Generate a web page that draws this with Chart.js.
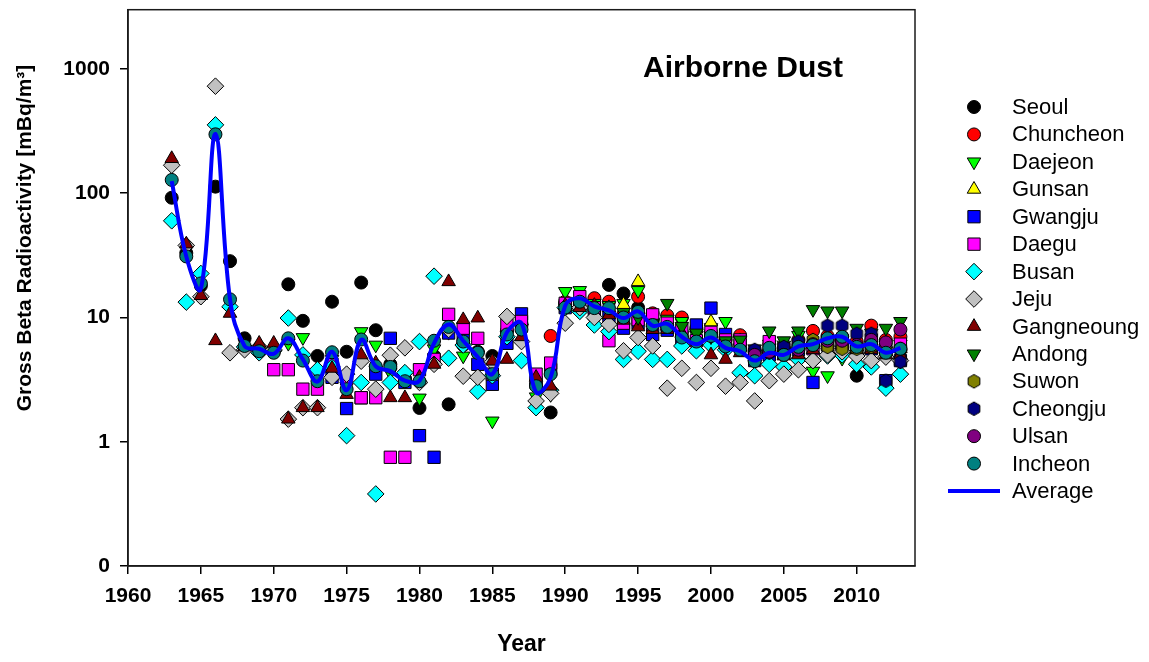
<!DOCTYPE html>
<html>
<head>
<meta charset="utf-8">
<script src="https://cdn.jsdelivr.net/npm/chart.js@4.4.0/dist/chart.umd.min.js"></script>
<style>
  html, body { margin: 0; padding: 0; background: #fff; }
</style>
</head>
<body>
<canvas id="dust" width="1149" height="662"></canvas>
<script>
const FONT = 'Arial, "Liberation Sans", sans-serif'

const years = [
  1963, 1964, 1965, 1966, 1967, 1968, 1969,
  1970, 1971, 1972, 1973, 1974, 1975, 1976, 1977, 1978, 1979,
  1980, 1981, 1982, 1983, 1984, 1985, 1986, 1987, 1988, 1989,
  1990, 1991, 1992, 1993, 1994, 1995, 1996, 1997, 1998, 1999,
  2000, 2001, 2002, 2003, 2004, 2005, 2006, 2007, 2008, 2009,
  2010, 2011, 2012, 2013
]

const xTicks = [1960, 1965, 1970, 1975, 1980, 1985, 1990, 1995, 2000, 2005, 2010]
const yTicks = [0.1, 1, 10, 100, 1000]
const yTickLabels = ['0', '1', '10', '100', '1000']

// mBq/m3 per station, 1963..2013 (null = no measurement)
const seoul = [
  92, 33, 18, 113, 28.4, 6.8, 5.6,
  5.3, 18.5, 9.4, 4.9, 13.4, 5.3, 19.1, 7.9, 4.2, 3.2,
  1.87, 4.9, 2.0, 6.0, 5.3, 4.9, 7.8, 8.8, 2.9, 1.72,
  12.8, 13.5, 12.5, 18.3, 15.6, 12.0, 9.4, 8.7, 7.6, 6.6,
  7.2, 6.0, 5.6, 4.7, 5.4, 5.1, 5.6, 5.9, 6.6, 7.0,
  3.4, 6.0, 5.3, 5.5
]
const chuncheon = [
  null, null, null, null, null, null, null,
  null, null, null, null, null, null, null, null, null, null,
  null, null, null, null, null, null, null, null, null, 7.1,
  13.4, 13.8, 14.3, 13.4, 10.7, 14.7, 10.8, 10.4, 10.0, 8.2,
  7.6, 6.6, 7.2, 5.3, 6.1, 5.6, 6.6, 7.8, 7.1, 6.6,
  6.4, 8.6, 6.6, 7.0
]
const daejeon = [
  null, null, null, null, null, null, null,
  null, 6.2, 6.9, 3.6, 4.6, 2.8, 7.7, 6.0, 3.6, 3.3,
  2.25, 5.6, 7.6, 4.9, 5.0, 1.47, 7.2, 8.2, 2.3, 2.4,
  16.2, 16.5, 13.0, 12.5, 13.0, 16.5, 9.2, 9.7, 9.3, 7.2,
  8.3, 9.3, 6.6, 5.1, 6.1, 6.0, 7.2, 3.7, 3.4, 4.7,
  5.1, 6.0, 5.4, 6.1
]
const gunsan = [
  null, null, null, null, null, null, null,
  null, null, null, null, null, null, null, null, null, null,
  null, null, null, null, null, null, null, null, null, null,
  null, null, null, 12.0, 12.7, 19.4, 9.0, 8.5, 7.4, 7.2,
  9.2, 6.2, 6.5, 5.0, 5.6, 5.6, 6.0, 6.2, 6.3, 6.2,
  5.8, 5.6, 5.3, 5.6
]
const gwangju = [
  null, null, null, null, null, null, null,
  null, null, null, null, 3.3, 1.85, 2.26, 3.5, 6.8, 3.0,
  1.12, 0.75, 7.5, 7.0, 4.2, 2.9, 6.2, 10.7, 3.0, 3.8,
  12.0, 12.2, 10.7, 10.0, 8.2, 9.0, 7.3, 7.9, 6.5, 8.7,
  11.9, 7.3, 6.0, 4.5, 5.0, 5.2, 5.5, 3.0, 6.0, 6.5,
  5.5, 5.6, 3.1, 4.5
]
const daegu = [
  null, null, null, null, null, null, null,
  3.8, 3.8, 2.65, 2.65, 4.2, 3.2, 2.26, 2.26, 0.75, 0.75,
  3.8, 4.6, 10.6, 8.2, 6.8, 3.5, 8.7, 9.3, 3.5, 4.3,
  13.0, 14.7, 12.0, 6.5, 9.0, 9.6, 10.5, 9.0, 8.0, 6.5,
  7.6, 6.6, 6.6, 5.1, 6.4, 5.6, 6.1, 5.6, 6.5, 6.1,
  5.6, 6.6, 5.6, 6.1
]
const busan = [
  60, 13.3, 22.6, 355, 12.2, 5.8, 5.2,
  5.4, 9.9, 5.0, 3.8, 4.0, 1.12, 3.0, 0.38, 3.0, 3.6,
  6.4, 21.5, 4.7, 6.0, 2.55, 3.4, 7.0, 4.5, 1.88, 2.6,
  12.0, 11.2, 8.7, 7.7, 4.6, 5.35, 4.6, 4.6, 5.9, 5.4,
  6.0, 5.5, 3.6, 3.4, 4.2, 4.0, 4.6, 4.5, 4.9, 5.0,
  4.2, 4.0, 2.7, 3.5
]
const jeju = [
  168, 38, 14.7, 727, 5.2, 5.5, 5.8,
  5.5, 1.52, 1.88, 1.88, 3.3, 3.5, 4.45, 2.65, 4.97, 5.7,
  3.0, 4.2, 8.0, 3.37, 3.3, 4.4, 10.2, 6.4, 2.13, 2.45,
  9.0, 12.0, 10.0, 8.8, 5.4, 6.9, 5.9, 2.7, 3.9, 3.0,
  3.9, 2.8, 3.0, 2.13, 3.1, 3.5, 3.8, 4.5, 5.0, 5.3,
  4.9, 4.5, 4.8, 4.5
]
const gangneoung = [
  190, 39, 15, 6.5, 10.8, 5.8, 6.2,
  6.2, 1.52, 1.88, 1.88, 3.9, 2.4, 5.0, 4.3, 2.26, 2.26,
  3.3, 4.2, 19.4, 9.6, 9.9, 4.45, 4.6, 7.0, 3.3, 2.8,
  12.5, 12.0, 12.5, 10.5, 9.5, 8.4, 8.0, 8.0, 7.5, 6.5,
  5.0, 4.6, 5.2, 4.8, 5.5, 4.9, 5.0, 5.5, 6.0, 6.0,
  5.5, 5.5, 5.0, 5.0
]
const andong = [
  null, null, null, null, null, null, null,
  null, null, null, null, null, null, null, null, null, null,
  null, null, null, null, null, null, null, null, null, null,
  null, null, null, null, 11.0, 10.0, 9.0, 13.0, 8.5, 7.5,
  7.0, 6.5, 6.6, 5.6, 7.8, 6.5, 7.8, 11.6, 11.3, 11.3,
  8.2, 7.5, 8.2, 9.3
]
const suwon = [
  null, null, null, null, null, null, null,
  null, null, null, null, null, null, null, null, null, null,
  null, null, null, null, null, null, null, null, null, null,
  null, null, null, null, null, null, null, null, null, null,
  null, null, null, 5.2, 5.5, 5.3, 5.8, 6.6, 5.8, 5.6,
  5.6, 5.8, 5.4, 5.6
]
const cheongju = [
  null, null, null, null, null, null, null,
  null, null, null, null, null, null, null, null, null, null,
  null, null, null, null, null, null, null, null, null, null,
  null, null, null, null, null, null, null, null, null, null,
  null, null, null, 5.5, 5.2, 5.8, 6.4, 6.0, 8.6, 8.6,
  7.4, 7.4, 3.1, 4.4
]
const ulsan = [
  null, null, null, null, null, null, null,
  null, null, null, null, null, null, null, null, null, null,
  null, null, null, null, null, null, null, null, null, null,
  null, null, null, null, null, null, null, null, null, null,
  null, null, null, 5.0, 5.3, 5.0, 5.5, 6.1, 6.5, 6.5,
  6.0, 6.6, 6.3, 8.0
]
const incheon = [
  128, 31, 18.8, 298, 14, 5.9, 5.35,
  5.2, 6.8, 4.5, 3.07, 5.25, 2.65, 6.65, 4.05, 4.0, 3.07,
  3.07, 6.5, 8.4, 6.4, 5.2, 3.5, 7.3, 8.0, 2.8, 3.5,
  12.0, 13.4, 11.9, 11.9, 10.0, 11.1, 8.7, 8.4, 6.9, 6.4,
  7.1, 5.85, 5.5, 4.45, 5.7, 5.0, 5.8, 6.0, 6.8, 7.0,
  5.8, 6.0, 5.2, 5.6
]
const average = [
  125, 31, 17, 300, 14, 5.9, 5.6,
  5.1, 6.8, 4.6, 3.05, 5.3, 2.6, 6.6, 4.05, 3.7, 3.1,
  3.1, 6.2, 8.8, 6.5, 4.8, 3.5, 7.6, 9.0, 2.5, 3.3,
  12.5, 14.3, 12.3, 11.4, 9.9, 11.2, 8.6, 8.9, 7.0, 6.1,
  6.9, 5.7, 5.35, 4.5, 5.2, 5.0, 5.85, 6.1, 6.8, 7.0,
  5.85, 6.1, 5.2, 5.7
]

// small hexagon sprite used as a point style
function hexagon(fill) {
  const c = document.createElement('canvas')
  c.width = 16
  c.height = 16
  const g = c.getContext('2d')
  g.beginPath()
  for (let i = 0; i < 6; i++) {
    const a = Math.PI / 6 + i * Math.PI / 3
    const px = 8 + 6.8 * Math.cos(a)
    const py = 8 + 6.8 * Math.sin(a)
    if (i === 0) g.moveTo(px, py)
    else g.lineTo(px, py)
  }
  g.closePath()
  g.fillStyle = fill
  g.fill()
  g.lineWidth = 1
  g.strokeStyle = '#000'
  g.stroke()
  return c
}

const stations = [
  { label: 'Seoul', data: seoul, color: '#000000', style: 'circle', r: 6.5 },
  { label: 'Chuncheon', data: chuncheon, color: '#ff0000', style: 'circle', r: 6.5 },
  { label: 'Daejeon', data: daejeon, color: '#00ff00', style: 'triangle', r: 7.8, rot: 180 },
  { label: 'Gunsan', data: gunsan, color: '#ffff00', style: 'triangle', r: 7.8 },
  { label: 'Gwangju', data: gwangju, color: '#0000ff', style: 'rect', r: 8.7 },
  { label: 'Daegu', data: daegu, color: '#ff00ff', style: 'rect', r: 8.7 },
  { label: 'Busan', data: busan, color: '#00ffff', style: 'rectRot', r: 8.3 },
  { label: 'Jeju', data: jeju, color: '#c0c0c0', style: 'rectRot', r: 8.3 },
  { label: 'Gangneoung', data: gangneoung, color: '#800000', style: 'triangle', r: 7.8 },
  { label: 'Andong', data: andong, color: '#008000', style: 'triangle', r: 7.8, rot: 180 },
  { label: 'Suwon', data: suwon, color: '#808000', style: hexagon('#808000'), r: 7 },
  { label: 'Cheongju', data: cheongju, color: '#000080', style: hexagon('#000080'), r: 7 },
  { label: 'Ulsan', data: ulsan, color: '#800080', style: 'circle', r: 6.5 },
  { label: 'Incheon', data: incheon, color: '#008080', style: 'circle', r: 6.5 }
]

function toPoints(arr) {
  let pts = []
  for (let i = 0; i < years.length; i++) {
    if (arr[i] != null) pts.push({ x: years[i], y: arr[i] })
  }
  return pts
}

let datasets = stations.map((s, i) => ({
  label: s.label,
  data: toPoints(s.data),
  showLine: false,
  pointStyle: s.style,
  pointRadius: s.r,
  pointRotation: s.rot || 0,
  pointBackgroundColor: s.color,
  pointBorderColor: '#000',
  pointBorderWidth: 1,
  order: 20 - i
}))

datasets.push({
  label: 'Average',
  data: toPoints(average),
  showLine: true,
  borderColor: '#0000ff',
  borderWidth: 4,
  tension: 0.4,
  pointRadius: 0,
  order: 0
})

function drawMarker(ctx, s, x, y) {
  if (typeof s.style !== 'string') {
    ctx.drawImage(s.style, x - s.style.width / 2, y - s.style.height / 2)
    return
  }
  const r = s.r
  ctx.beginPath()
  if (s.style === 'circle') {
    ctx.arc(x, y, r, 0, Math.PI * 2)
  } else if (s.style === 'rect') {
    const h = r * Math.SQRT1_2
    ctx.rect(x - h, y - h, 2 * h, 2 * h)
  } else if (s.style === 'rectRot') {
    ctx.moveTo(x - r, y)
    ctx.lineTo(x, y - r)
    ctx.lineTo(x + r, y)
    ctx.lineTo(x, y + r)
    ctx.closePath()
  } else if (s.style === 'triangle') {
    let rad = (s.rot || 0) * Math.PI / 180
    for (let k = 0; k < 3; k++) {
      const px = x + Math.sin(rad) * r
      const py = y - Math.cos(rad) * r
      if (k === 0) ctx.moveTo(px, py)
      else ctx.lineTo(px, py)
      rad += Math.PI * 2 / 3
    }
    ctx.closePath()
  }
  ctx.fillStyle = s.color
  ctx.fill()
  ctx.lineWidth = 1
  ctx.strokeStyle = '#000'
  ctx.stroke()
}

const decorations = {
  id: 'decorations',
  afterDraw(chart) {
    const ctx = chart.ctx
    const a = chart.chartArea
    ctx.save()
    ctx.strokeStyle = '#1a1a1a'
    ctx.lineWidth = 1.5
    ctx.strokeRect(a.left, a.top, a.right - a.left, a.bottom - a.top)

    ctx.fillStyle = '#000'
    ctx.textAlign = 'center'
    ctx.textBaseline = 'middle'
    ctx.font = 'bold 30px ' + FONT
    ctx.fillText('Airborne Dust', 743, 69)

    ctx.font = 'bold 23px ' + FONT
    ctx.fillText('Year', (a.left + a.right) / 2, 645)

    ctx.save()
    ctx.translate(25, 238)
    ctx.rotate(-Math.PI / 2)
    ctx.font = 'bold 21px ' + FONT
    ctx.fillText('Gross Beta Radioactivity [mBq/m³]', 0, 0)
    ctx.restore()

    // legend
    ctx.textAlign = 'left'
    ctx.font = '22px ' + FONT
    stations.forEach((s, i) => {
      const y = 107 + i * 27.43
      drawMarker(ctx, s, 974, y)
      ctx.fillStyle = '#000'
      ctx.fillText(s.label, 1012, y + 1)
    })
    const ly = 107 + stations.length * 27.43
    ctx.beginPath()
    ctx.moveTo(948, ly)
    ctx.lineTo(1000, ly)
    ctx.strokeStyle = '#0000ff'
    ctx.lineWidth = 4
    ctx.stroke()
    ctx.fillStyle = '#000'
    ctx.fillText('Average', 1012, ly + 1)
    ctx.restore()
  }
}

new Chart(document.getElementById('dust'), {
  type: 'scatter',
  data: { datasets: datasets },
  options: {
    responsive: false,
    animation: false,
    devicePixelRatio: 1,
    layout: { padding: { top: 2, right: 234, left: 0, bottom: 0 } },
    plugins: { legend: { display: false }, tooltip: { enabled: false } },
    scales: {
      x: {
        type: 'linear',
        min: 1960,
        max: 2014,
        afterBuildTicks: s => { s.ticks = xTicks.map(v => ({ value: v })) },
        afterFit: s => { s.height = 96; s.paddingLeft = 0; s.paddingRight = 0 },
        ticks: {
          callback: v => String(v),
          font: { family: FONT, size: 21, weight: 'bold' },
          color: '#000',
          padding: 10,
          maxRotation: 0,
          autoSkip: false
        },
        grid: { drawOnChartArea: false, drawTicks: true, tickLength: 8, color: '#000', lineWidth: 1.5 },
        border: { display: true, color: '#1a1a1a', width: 1.5 }
      },
      y: {
        type: 'logarithmic',
        min: 0.1,
        max: 3000,
        afterBuildTicks: s => { s.ticks = yTicks.map(v => ({ value: v })) },
        afterFit: s => { s.width = 128; s.paddingTop = 0; s.paddingBottom = 0 },
        ticks: {
          callback: v => yTickLabels[yTicks.indexOf(v)],
          font: { family: FONT, size: 21, weight: 'bold' },
          color: '#000',
          padding: 10,
          autoSkip: false
        },
        grid: { drawOnChartArea: false, drawTicks: true, tickLength: 8, color: '#000', lineWidth: 1.5 },
        border: { display: true, color: '#1a1a1a', width: 1.5 }
      }
    }
  },
  plugins: [decorations]
})
</script>
</body>
</html>
